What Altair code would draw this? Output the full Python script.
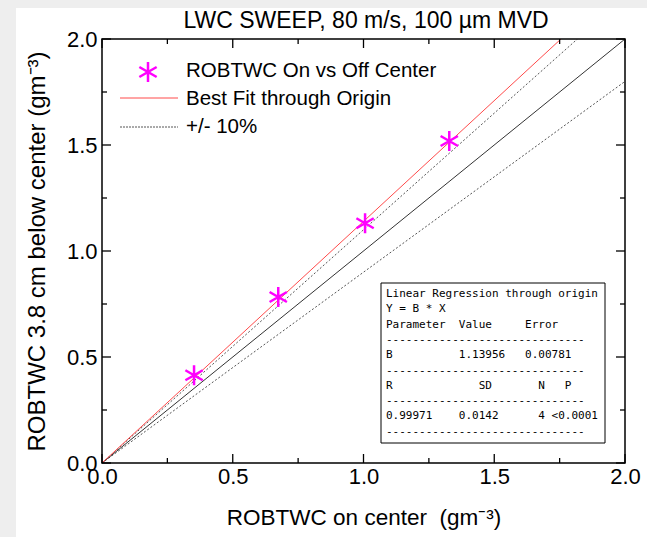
import altair as alt
import pandas as pd

# ---- data ----
on_center = [0.352, 0.674, 1.006, 1.328]
below_center = [0.414, 0.783, 1.131, 1.519]

fit_slope = 1.13956
# line end points (x, y) on the 0..2 frame
fit_x, fit_y = [0.0, 1.755], [0.0, 2.0]
one_x, one_y = [0.0, 2.0], [0.0, 2.0]
plus_x, plus_y = [0.0, 1.818], [0.0, 2.0]
minus_x, minus_y = [0.0, 2.0], [0.0, 1.8]

major_ticks = [0.0, 0.5, 1.0, 1.5, 2.0]
minor_ticks = [0.25, 0.75, 1.25, 1.75]

title_text = "LWC SWEEP, 80 m/s, 100 \u00b5m MVD"
x_title = "ROBTWC on center\u00a0\u00a0(gm\u207b\u00b3)"
y_title = "ROBTWC 3.8 cm below center (gm\u207b\u00b3)"
legend_labels = ["ROBTWC On vs Off Center", "Best Fit through Origin", "+/- 10%"]

box_lines = [
    "Linear Regression through origin",
    "Y = B * X",
    "Parameter  Value     Error",
    "-" * 30,
    "B          1.13956   0.00781",
    "-" * 30,
    "R             SD       N   P",
    "-" * 30,
    "0.99971    0.0142      4 <0.0001",
    "-" * 30,
]

# ---- layout ----
W, H = 523, 424
FONT = "Liberation Sans"
MONO = "DejaVu Sans Mono"
sc_x = alt.Scale(domain=[0, 2], nice=False, zero=False)
sc_y = alt.Scale(domain=[0, 2], nice=False, zero=False)

x_axis = alt.Axis(values=major_ticks, format=".1f", domain=False, ticks=False, grid=False,
                  labelFontSize=22, labelFont=FONT, labelColor="black", labelPadding=3,
                  labelFlush=False, title=x_title, titleFont=FONT, titleFontSize=22.5,
                  titleFontWeight="normal", titleColor="black", titlePadding=19, zindex=2)
y_axis = alt.Axis(values=major_ticks, format=".1f", domain=False, ticks=False, grid=False,
                  labelFontSize=22, labelFont=FONT, labelColor="black", labelPadding=5,
                  labelFlush=False, title=y_title, titleFont=FONT, titleFontSize=24,
                  titleFontWeight="normal", titleColor="black", titlePadding=17, zindex=2)

one = pd.DataFrame({"a": [0]})

# background card (shadow strip on left/top)
card = alt.Chart(one).mark_rect(color="white").encode(
    x=alt.value(16 - 102), x2=alt.value(647 - 102), y=alt.value(8 - 39), y2=alt.value(537 - 39))
frame = alt.Chart(one).mark_rect(
    fill="transparent", stroke="black", strokeWidth=1.5).encode(
    x=alt.value(0), x2=alt.value(W), y=alt.value(0), y2=alt.value(H))
title_mark = alt.Chart(pd.DataFrame({"t": [title_text]})).mark_text(
    align="center", baseline="middle", font=FONT, fontSize=23, color="black").encode(
    x=alt.value(366 - 102), y=alt.value(21 - 39), text="t:N")

def line_layer(xs, ys, color, dash=None, width=1.0):
    df = pd.DataFrame({"x": xs, "y": ys})
    kw = dict(color=color, strokeWidth=width, clip=True)
    if dash:
        kw["strokeDash"] = dash
    return alt.Chart(df).mark_line(**kw).encode(
        x=alt.X("x:Q", scale=sc_x, axis=x_axis), y=alt.Y("y:Q", scale=sc_y, axis=y_axis))

minus_l = line_layer(minus_x, minus_y, "#555555", [2, 2])
plus_l = line_layer(plus_x, plus_y, "#555555", [2, 2])
one_l = line_layer(one_x, one_y, "#333333")
fit_l = line_layer(fit_x, fit_y, "#ff4a4a")

ASTER = "M0,-1L0,1M-0.866,-0.5L0.866,0.5M-0.866,0.5L0.866,-0.5"
pts = alt.Chart(pd.DataFrame({"x": on_center, "y": below_center})).mark_point(
    shape=ASTER, filled=False, stroke="#ff00ff", strokeWidth=2.5, size=400, opacity=1).encode(
    x=alt.X("x:Q", scale=sc_x), y=alt.Y("y:Q", scale=sc_y))

# inward ticks
tick_layers = []
for vals, ln in [(major_ticks, 9), (minor_ticks, 5)]:
    tdf = pd.DataFrame({"v": vals})
    base = alt.Chart(tdf).mark_rule(color="black", strokeWidth=1.3)
    tick_layers += [
        base.encode(x=alt.X("v:Q", scale=sc_x), y=alt.value(H), y2=alt.value(H - ln)),
        base.encode(x=alt.X("v:Q", scale=sc_x), y=alt.value(0), y2=alt.value(ln)),
        base.encode(y=alt.Y("v:Q", scale=sc_y), x=alt.value(0), x2=alt.value(ln)),
        base.encode(y=alt.Y("v:Q", scale=sc_y), x=alt.value(W), x2=alt.value(W - ln)),
    ]

# legend (manual)
leg_star = alt.Chart(one).mark_point(
    shape=ASTER, filled=False, stroke="#ff00ff", strokeWidth=2.5, size=400, opacity=1).encode(
    x=alt.value(148 - 102), y=alt.value(72 - 39))
leg_red = alt.Chart(one).mark_rule(color="#ff4a4a", strokeWidth=1).encode(
    x=alt.value(120 - 102), x2=alt.value(178 - 102), y=alt.value(98 - 39))
leg_dot = alt.Chart(one).mark_rule(color="#555555", strokeWidth=1, strokeDash=[2, 1]).encode(
    x=alt.value(120 - 102), x2=alt.value(178 - 102), y=alt.value(127 - 39))
leg_df = pd.DataFrame({"t": legend_labels, "row": [0, 1, 2]})
leg_text = alt.Chart(leg_df).transform_calculate(py="32 + datum.row * 28").mark_text(
    align="left", baseline="middle", font=FONT, fontSize=20.5, color="black").encode(
    x=alt.value(186 - 102), y=alt.Y("py:Q", scale=None), text="t:N")

# regression box
box = alt.Chart(one).mark_rect(fill="white", stroke="black", strokeWidth=1).encode(
    x=alt.value(381 - 102), x2=alt.value(605 - 102), y=alt.value(283 - 39), y2=alt.value(443 - 39))
box_df = pd.DataFrame({"t": [s.replace(" ", "\u00a0") for s in box_lines], "row": list(range(len(box_lines)))})
box_text = alt.Chart(box_df).transform_calculate(py="255 + datum.row * 15.3").mark_text(
    align="left", baseline="middle", font=MONO, fontSize=11, color="black").encode(
    x=alt.value(386 - 102), y=alt.Y("py:Q", scale=None), text="t:N")

chart = alt.layer(
    card, minus_l, plus_l, one_l, fit_l, pts, *tick_layers, frame, title_mark,
    leg_star, leg_red, leg_dot, leg_text, box, box_text
).properties(
    width=W, height=H,
    autosize=alt.AutoSizeParams(type="none"),
    padding={"left": 102, "top": 39, "right": 22, "bottom": 74},
    background="#eeeeee",
).configure_view(strokeWidth=0)

chart.save("out.html", embed_options={"renderer": "svg", "actions": False})
